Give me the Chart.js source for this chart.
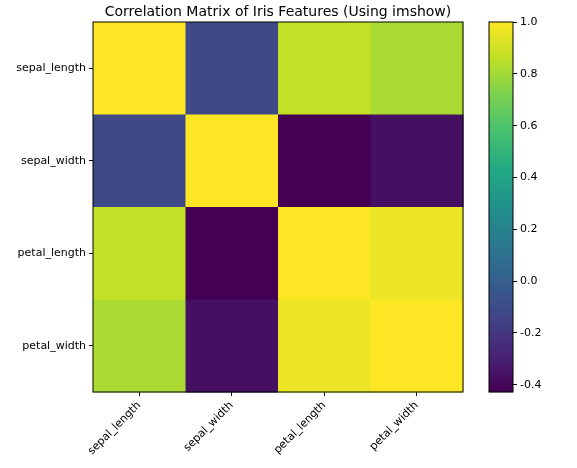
<!DOCTYPE html>
<html>
<head>
<meta charset="utf-8">
<script src="https://cdn.jsdelivr.net/npm/chart.js@4/dist/chart.umd.min.js"></script>
<style>
body { margin: 0; background: #fff; }
#wrap { position: relative; width: 577px; height: 468px; }
#main { position: absolute; left: 0; top: 0; }
#bar { position: absolute; left: 470px; top: 0; }
</style>
</head>
<body>
<div id="wrap">
<canvas id="main" width="577" height="468"></canvas>
<canvas id="bar" width="107" height="468"></canvas>
</div>
<script>
// data
var features = ["sepal_length", "sepal_width", "petal_length", "petal_width"];
var corr = [
    [1.0, -0.118, 0.872, 0.818],
    [-0.118, 1.0, -0.428, -0.366],
    [0.872, -0.428, 1.0, 0.963],
    [0.818, -0.366, 0.963, 1.0]
];
var vmin = -0.428, vmax = 1.0;
var barTicks = [-0.4, -0.2, 0.0, 0.2, 0.4, 0.6, 0.8, 1.0];

var viridis = ["#440154", "#482475", "#414487", "#355f8d", "#2a788e", "#21918c", "#22a884", "#44bf70", "#7ad151", "#bddf26", "#fde725"];
function hex(h) { return [parseInt(h.substr(1, 2), 16), parseInt(h.substr(3, 2), 16), parseInt(h.substr(5, 2), 16)]; }
function cmap(t) {
    t = Math.max(0, Math.min(1, t));
    var p = t * 10, i = Math.min(9, Math.floor(p)), f = p - i;
    var a = hex(viridis[i]), b = hex(viridis[i + 1]);
    return "rgb(" + [0, 1, 2].map(function (k) { return Math.round(a[k] + (b[k] - a[k]) * f); }).join(",") + ")";
}

Chart.defaults.font.family = "DejaVu Sans";
Chart.defaults.color = "#000";

// heatmap cells
var cells = {
    id: "cells",
    beforeDatasetsDraw: function (chart) {
        var ctx = chart.ctx, xs = chart.scales.x, ys = chart.scales.y;
        var w = xs.getPixelForValue(1) - xs.getPixelForValue(0);
        var h = ys.getPixelForValue(1) - ys.getPixelForValue(0);
        for (var r = 0; r < features.length; r++) {
            for (var c = 0; c < features.length; c++) {
                var cx = xs.getPixelForValue(c), cy = ys.getPixelForValue(r);
                ctx.fillStyle = cmap((corr[r][c] - vmin) / (vmax - vmin));
                ctx.fillRect(cx - w / 2, cy - h / 2, w + 0.5, h + 0.5);
            }
        }
        var a = chart.chartArea;
        ctx.strokeStyle = "#000"; ctx.lineWidth = 1;
        ctx.strokeRect(a.left, a.top, a.right - a.left, a.bottom - a.top);
        ctx.font = "14px DejaVu Sans"; ctx.fillStyle = "#000"; ctx.textAlign = "center"; ctx.textBaseline = "middle";
        ctx.fillText("Correlation Matrix of Iris Features (Using imshow)", (a.left + a.right) / 2, 12);
    }
};

new Chart(document.getElementById("main"), {
    type: "scatter",
    data: { datasets: [{ data: [], pointRadius: 0 }] },
    options: {
        responsive: false, animation: false,
        layout: { padding: { left: 0, right: 114, top: 22, bottom: 0 } },
        plugins: { legend: { display: false }, tooltip: { enabled: false } },
        scales: {
            x: {
                type: "category", labels: features, offset: true,
                grid: { drawOnChartArea: false, offset: false, tickLength: 4, color: "#000" },
                border: { display: false },
                ticks: { maxRotation: 45, minRotation: 45, font: { size: 11 } },
                afterFit: function (s) { s.height = 76; }
            },
            y: {
                type: "category", labels: features, offset: true,
                grid: { drawOnChartArea: false, offset: false, tickLength: 4, color: "#000" },
                border: { display: false },
                ticks: { font: { size: 11 } },
                afterFit: function (s) { s.width = 93; }
            }
        }
    },
    plugins: [cells]
});

// colorbar
var gradient = {
    id: "gradient",
    beforeDatasetsDraw: function (chart) {
        var ctx = chart.ctx, a = chart.chartArea, ys = chart.scales.y;
        for (var py = Math.floor(a.top); py < a.bottom; py++) {
            var v = ys.getValueForPixel(py + 0.5);
            ctx.fillStyle = cmap((v - vmin) / (vmax - vmin));
            ctx.fillRect(a.left, py, a.right - a.left, 1.2);
        }
        ctx.strokeStyle = "#000"; ctx.lineWidth = 1;
        ctx.strokeRect(a.left, a.top, a.right - a.left, a.bottom - a.top);
    }
};

new Chart(document.getElementById("bar"), {
    type: "scatter",
    data: { datasets: [{ data: [], pointRadius: 0 }] },
    options: {
        responsive: false, animation: false,
        layout: { padding: { left: 19, right: 0, top: 22, bottom: 76 } },
        plugins: { legend: { display: false }, tooltip: { enabled: false } },
        scales: {
            x: { display: false, min: 0, max: 1 },
            y: {
                position: "right", min: vmin, max: vmax,
                afterBuildTicks: function (s) { s.ticks = barTicks.map(function (v) { return { value: v }; }); },
                grid: { drawOnChartArea: false, tickLength: 4, color: "#000" },
                border: { display: false },
                ticks: { font: { size: 11 }, callback: function (v) { return v.toFixed(1); } },
                afterFit: function (s) { s.width = 64; }
            }
        }
    },
    plugins: [gradient]
});
</script>
</body>
</html>
